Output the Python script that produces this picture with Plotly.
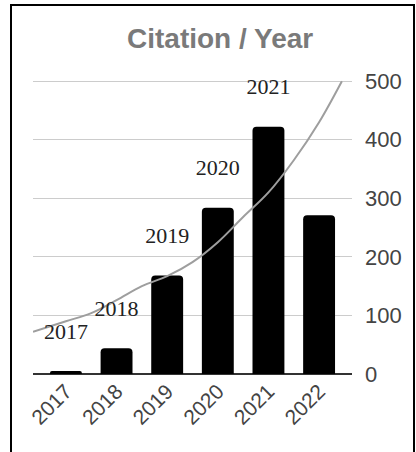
import plotly.graph_objects as go

years = ["2017", "2018", "2019", "2020", "2021", "2022"]
citations = [5, 44, 168, 284, 422, 271]
label_years = ["2017", "2018", "2019", "2020", "2021", ""]

# trend curve (x in category index units)
trend_x = [-0.65, 0, 0.5, 1, 1.5, 2, 2.5, 3, 3.5, 4, 4.5, 5, 5.45]
trend_y = [72, 90, 104, 126, 150, 167, 191, 225, 268, 310, 365, 430, 500]

y_ticks = [0, 100, 200, 300, 400, 500]
label_offset = 65

W, H = 416, 452
ml, mr, mt, mb = 33, 64, 80, 78
pw, ph = W - ml - mr, H - mt - mb

def px2paper_x(px):
    return (px - ml) / pw

def px2paper_y(py):
    return (H - mb - py) / ph

xi = list(range(len(years)))

fig = go.Figure()
fig.add_trace(go.Bar(x=xi, y=citations, marker_color="black", width=0.63,
                     marker_line_width=0, showlegend=False, hoverinfo="skip"))
fig.add_trace(go.Scatter(x=trend_x, y=trend_y, mode="lines", line_shape="spline",
                         line=dict(color="#9e9e9e", width=2), showlegend=False,
                         hoverinfo="skip"))
fig.add_trace(go.Scatter(x=xi, y=[v + label_offset for v in citations], mode="text",
                         text=label_years, textposition="middle center",
                         textfont=dict(family="Liberation Serif", size=22, color="#222"),
                         showlegend=False, hoverinfo="skip", cliponaxis=False))

fig.add_annotation(text="<b>Citation / Year</b>", xref="paper", yref="paper",
                   x=px2paper_x(220), y=px2paper_y(39), showarrow=False,
                   xanchor="center", yanchor="middle",
                   font=dict(family="Liberation Sans", size=28, color="#7a7a7a"))

fig.add_shape(type="rect", xref="paper", yref="paper",
              x0=px2paper_x(11), x1=px2paper_x(414),
              y0=px2paper_y(470), y1=px2paper_y(5),
              line=dict(color="black", width=2), layer="above")

fig.update_layout(
    width=W, height=H,
    margin=dict(l=ml, r=mr, t=mt, b=mb, pad=0),
    paper_bgcolor="white", plot_bgcolor="white",
    barcornerradius=4,
    xaxis=dict(range=[-0.65, 5.65], tickmode="array", tickvals=xi, ticktext=years,
               tickangle=-45, showgrid=False, zeroline=False, showline=False,
               tickfont=dict(family="Liberation Sans", size=21, color="#444"),
               fixedrange=True),
    yaxis=dict(range=[0, 502], side="right", tickmode="array", tickvals=y_ticks,
               showgrid=True, gridcolor="#cccccc", gridwidth=1,
               zeroline=True, zerolinecolor="#333333", zerolinewidth=2,
               showline=False, ticklabelstandoff=12,
               tickfont=dict(family="Liberation Sans", size=22, color="#444"),
               fixedrange=True),
)

fig.write_html("out.html")
